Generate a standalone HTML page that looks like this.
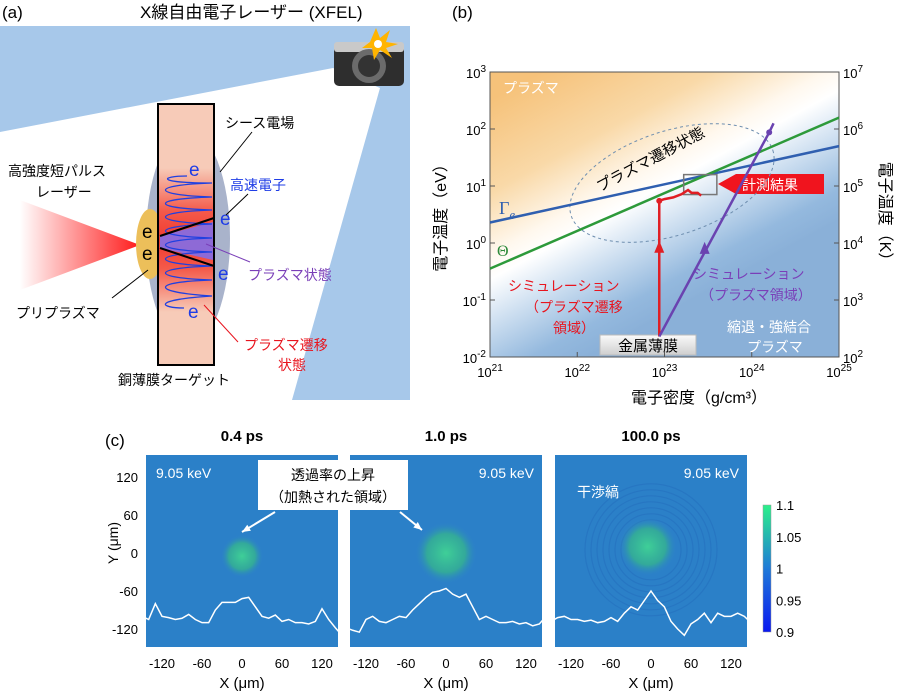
<!DOCTYPE html>
<html><head><meta charset="utf-8"><style>
html,body{margin:0;padding:0;background:#fff}
svg{display:block;font-family:"Liberation Sans","Noto Sans CJK JP",sans-serif}
</style></head><body>
<svg id="fig" width="900" height="698" viewBox="0 0 900 698">
<defs>
<linearGradient id="bgB" gradientUnits="userSpaceOnUse" x1="600" y1="40" x2="730" y2="280">
<stop offset="0" stop-color="#f6c27a"/><stop offset="0.3" stop-color="#f9d9a8"/><stop offset="0.5" stop-color="#fff8ee"/><stop offset="0.58" stop-color="#ffffff"/><stop offset="0.72" stop-color="#cfe0f1"/><stop offset="0.9" stop-color="#94b9de"/><stop offset="1" stop-color="#8ab0d8"/>
</linearGradient>
<linearGradient id="cone" x1="0" x2="1"><stop offset="0" stop-color="#fff"/><stop offset="1" stop-color="#ff1a1a"/></linearGradient>
<linearGradient id="band" x1="0" y1="0" x2="0" y2="1"><stop offset="0" stop-color="#f7cbb8"/><stop offset="0.3" stop-color="#f45a4a"/><stop offset="0.5" stop-color="#f03a30"/><stop offset="0.7" stop-color="#f45a4a"/><stop offset="1" stop-color="#f7cbb8"/></linearGradient>
<linearGradient id="cbar" x1="0" y1="1" x2="0" y2="0"><stop offset="0" stop-color="#0a18f0"/><stop offset="0.5" stop-color="#1f7ad8"/><stop offset="1" stop-color="#2cf08a"/></linearGradient>
<linearGradient id="metal" x1="0" y1="0" x2="0" y2="1"><stop offset="0" stop-color="#fafafa"/><stop offset="1" stop-color="#cfcfcf"/></linearGradient>
<radialGradient id="spot"><stop offset="0" stop-color="#3fcf98"/><stop offset="0.6" stop-color="#35b48f" stop-opacity="0.8"/><stop offset="1" stop-color="#2b7bd0" stop-opacity="0"/></radialGradient>
</defs>

<!-- Panel (a) -->
<g>
<text x="2" y="18" font-size="17">(a)</text>
<text x="140" y="18" font-size="17">X線自由電子レーザー (XFEL)</text>
<polygon points="0,26 410,26 410,400 292,400 380,88 333,68 0,132" fill="#a7c8ea"/>
<g>
<rect x="334" y="42" width="70" height="44" rx="5" fill="#2e2e2e"/>
<rect x="334" y="42" width="70" height="10" rx="3" fill="#c9c9c9"/>
<circle cx="369" cy="66" r="17" fill="#6b6b6b"/><circle cx="369" cy="66" r="11" fill="#333"/>
<polygon points="376,28 380,38 390,30 386,42 398,44 386,48 392,58 380,50 374,60 372,48 362,48 370,42" fill="#ffb400"/>
<circle cx="378" cy="44" r="4" fill="#fff"/>
</g>
<polygon points="20,200 140,245 20,290" fill="url(#cone)"/>
<ellipse cx="188" cy="238" rx="42" ry="108" fill="#a9b3cb"/>
<ellipse cx="150" cy="244" rx="14" ry="35" fill="#ecbf5a"/>
<rect x="158" y="104" width="56" height="261" fill="#f7cbb8" stroke="#000" stroke-width="2"/>
<rect x="159" y="168" width="54" height="144" fill="url(#band)"/>
<polygon points="160,236 213,222 213,260 160,248" fill="#8e6ad6"/>
<path d="M187,176 C160,176 155,183 212,183 C150,185 150,195 212,197 C150,199 150,208 212,210 C150,212 150,222 212,224 C150,226 150,236 212,238 C150,240 150,250 212,252 C150,254 150,264 212,266 C150,268 150,278 212,280 C150,282 150,292 212,296 C150,300 160,308 184,308" fill="none" stroke="#2040e0" stroke-width="1.3"/>
<line x1="160" y1="236" x2="214" y2="218" stroke="#000" stroke-width="2"/>
<line x1="160" y1="248" x2="214" y2="266" stroke="#000" stroke-width="2"/>
<g font-size="19" fill="#1f3de6">
<text x="189" y="176">e</text><text x="220" y="225">e</text><text x="218" y="280">e</text><text x="188" y="318">e</text>
</g>
<text x="142" y="238" font-size="19">e</text>
<text x="142" y="260" font-size="19">e</text>
<g font-size="14">
<text x="225" y="128">シース電場</text>
<line x1="252" y1="132" x2="220" y2="172" stroke="#000"/>
<text x="230" y="190" fill="#1f3de6">高速電子</text>
<line x1="248" y1="194" x2="226" y2="215" stroke="#000"/>
<text x="8" y="176">高強度短パルス</text>
<text x="36" y="197">レーザー</text>
<text x="16" y="318">プリプラズマ</text>
<line x1="112" y1="298" x2="148" y2="270" stroke="#000"/>
<text x="248" y="280" fill="#7a3fb8">プラズマ状態</text>
<line x1="250" y1="262" x2="206" y2="244" stroke="#7a3fb8"/>
<text x="244" y="350" fill="#e8141e">プラズマ遷移</text>
<text x="278" y="370" fill="#e8141e">状態</text>
<line x1="238" y1="342" x2="204" y2="305" stroke="#e8141e"/>
<text x="118" y="385">銅薄膜ターゲット</text>
</g>
</g>

<!-- Panel (b) -->
<g id="pb">
<text x="452" y="18" font-size="17">(b)</text>
<rect x="490" y="72" width="349" height="285" fill="url(#bgB)"/>
<rect x="490" y="72" width="349" height="285" fill="none" stroke="#555"/>
<text x="503" y="93" font-size="14" fill="#fff">プラズマ</text>
<text x="0" y="0" font-size="15" transform="translate(600,192) rotate(-28)">プラズマ遷移状態</text>
<text x="499" y="214" font-size="18" fill="#2f5fb0" font-family="Liberation Serif,serif">Γ<tspan font-size="13" font-style="italic" dy="5">e</tspan></text>
<text x="497" y="256" font-size="16" fill="#2d8a3a" font-family="Liberation Serif,serif">Θ</text>
<g font-size="14">
<text x="508" y="291" fill="#e8141e">シミュレーション</text>
<text x="525" y="312" fill="#e8141e">（プラズマ遷移</text>
<text x="553" y="333" fill="#e8141e">領域）</text>
<text x="693" y="279" fill="#7a3fb8">シミュレーション</text>
<text x="700" y="300" fill="#7a3fb8">（プラズマ領域）</text>
<text x="727" y="332" fill="#fff">縮退・強結合</text>
<text x="747" y="352" fill="#fff">プラズマ</text>
</g>
<rect x="600" y="335" width="96" height="20" fill="url(#metal)" stroke="#bbb"/>
<text x="648" y="351" font-size="15" text-anchor="middle">金属薄膜</text>
<polygon points="718,184 736,174 824,174 824,194 736,194" fill="#f0141e"/>
<text x="742" y="190" font-size="14" fill="#fff">計測結果</text>
<text x="631" y="403" font-size="16">電子密度（g/cm³）</text>
<text transform="translate(446,214) rotate(-90)" font-size="16" text-anchor="middle">電子温度（eV）</text>
<text transform="translate(880,215) rotate(90)" font-size="16" text-anchor="middle">電子温度（K）</text>
</g>

<!-- Panel (c) -->
<g id="pc">
<text x="105" y="446" font-size="17">(c)</text>
<text x="9" y="0" transform="translate(118,552) rotate(-90)" font-size="14" text-anchor="middle">Y (μm)</text>
</g>
</svg>
<script>
const NS='http://www.w3.org/2000/svg';
// ---- panel b data ----
const xDecades=[21,22,23,24,25];
const yDecades=[-2,-1,0,1,2,3];
const kDecades=[2,3,4,5,6,7];
const gammaLine=[[21,0.36],[25,1.7]];
const thetaLine=[[21,-0.45],[25,2.2]];
const redSim=[[22.94,-1.64],[22.94,0.74],[23.0,0.77],[23.1,0.8],[23.2,0.86],[23.27,0.93],[23.31,0.88],[23.38,0.88],[23.42,0.83]];
const purpleSim=[[22.94,-1.64],[24.2,1.94],[24.25,2.1]];
const redArrowAt=[22.94,-0.1];
const purpleArrowAt=[23.46,-0.12];
const measureBox=[[23.22,0.85],[23.6,1.2]];
// ---- panel c data ----
const profX=[-150,-140,-130,-120,-110,-100,-90,-80,-70,-60,-50,-40,-30,-20,-10,0,10,20,30,40,50,60,70,80,90,100,110,120,130,140,150];
const prof1=[-100,-105,-80,-100,-102,-105,-103,-97,-105,-110,-110,-90,-78,-78,-78,-72,-70,-85,-100,-103,-98,-108,-105,-110,-110,-112,-108,-88,-105,-118,-130];
const prof2=[-118,-122,-125,-105,-100,-108,-110,-105,-100,-102,-90,-80,-70,-62,-60,-56,-65,-70,-65,-85,-105,-100,-105,-110,-110,-108,-112,-110,-115,-112,-100];
const prof3=[-108,-102,-100,-105,-105,-108,-106,-110,-108,-102,-108,-95,-85,-90,-75,-60,-75,-85,-108,-120,-130,-112,-105,-95,-110,-95,-100,-100,-95,-100,-110];
const panelTitles=['0.4 ps','1.0 ps','100.0 ps'];
const xTicksC=[-120,-60,0,60,120];
const yTicksC=[120,60,0,-60,-120];
const cbarTicks=[1.1,1.05,1,0.95,0.9];

const X=e=>490+(e-21)*349/4;
const Y=e=>357-(e+2)*57;
const pb=document.getElementById('pb');
function mk(t,a,p){const el=document.createElementNS(NS,t);for(const k in a)el.setAttribute(k,a[k]);(p||pb).appendChild(el);return el;}
function txt(x,y,s,sz,anchor,p){const t=mk('text',{x:x,y:y,'font-size':sz,'text-anchor':anchor||'start'},p);t.textContent=s;return t;}

let el=mk('ellipse',{cx:672,cy:183,rx:106,ry:52,fill:'none',stroke:'#6f8fb0','stroke-dasharray':'3,3',transform:'rotate(-18 672 183)'});


function line(pts,col,w,name){const l=mk('polyline',{points:pts.map(p=>X(p[0])+','+Y(p[1])).join(' '),fill:'none',stroke:col,'stroke-width':w});

return l;}
line(gammaLine,'#2f5fb0',2.5,'gamma-e-line');
line(thetaLine,'#2d9a3a',2.5,'theta-line');
const bx=mk('rect',{x:X(measureBox[0][0]),y:Y(measureBox[1][1]),width:X(measureBox[1][0])-X(measureBox[0][0]),height:Y(measureBox[0][1])-Y(measureBox[1][1]),fill:'none',stroke:'#777','stroke-width':1.5});


line(redSim,'#e01e24',2.5,'red-simulation-path');
line(purpleSim,'#6a43b0',2.5,'purple-simulation-path');
function tri(p,col,name){const x=X(p[0]),y=Y(p[1]);const t=mk('polygon',{points:`${x},${y-8} ${x-5},${y+4} ${x+5},${y+4}`,fill:col});

}
tri(redArrowAt,'#e01e24','red-arrowhead');
tri(purpleArrowAt,'#6a43b0','purple-arrowhead');
let d=mk('circle',{cx:X(redSim[1][0]),cy:Y(redSim[1][1]),r:3,fill:'#e01e24'});


d=mk('circle',{cx:X(purpleSim[1][0]),cy:Y(purpleSim[1][1]),r:3,fill:'#6a43b0'});


function sup(x,y,b,e,anchor,name){const t=mk('text',{x:x,y:y,'font-size':13,'text-anchor':anchor});t.textContent=b;const s=document.createElementNS(NS,'tspan');s.setAttribute('dy','-6');s.setAttribute('font-size','10');s.textContent=e;t.appendChild(s);

}
xDecades.forEach(e=>{mk('line',{x1:X(e),y1:357,x2:X(e),y2:352,stroke:'#555'});sup(X(e),377,'10',e,'middle','x-tick-label');});
yDecades.forEach(e=>{mk('line',{x1:490,y1:Y(e),x2:495,y2:Y(e),stroke:'#555'});sup(486,Y(e)+6,'10',e,'end','y-tick-label-left');});
kDecades.forEach((e,i)=>{mk('line',{x1:839,y1:Y(i-2),x2:834,y2:Y(i-2),stroke:'#555'});sup(843,Y(i-2)+6,'10',e,'start','y-tick-label-right');});

// ---- panel c ----
const pc=document.getElementById('pc');
const centers=[242,446,651];
const YC=v=>553-v*38/60;
const spots=[[[0,-5],22],[[0,0],32],[[-5,10],30]];
centers.forEach((cx,i)=>{
 const g=mk('g',{},pc);
 
 
 const XC=v=>cx+v*80/120;
 mk('rect',{x:cx-96,y:455,width:192,height:192,fill:'#2b7bd0'},g);
 mk('rect',{x:cx-96,y:455,width:192,height:192,fill:'#2f9aa8',opacity:0.18},g);
 if(i===2){for(let r=30;r<=70;r+=6)mk('circle',{cx:XC(0),cy:YC(5),r:r,fill:'none',stroke:'#1d5fb5','stroke-width':1.2,opacity:0.3},g);}
 const s=spots[i];mk('circle',{cx:XC(s[0][0]),cy:YC(s[0][1]),r:s[1],fill:'url(#spot)'},g);
 const pr=[prof1,prof2,prof3][i];
 const pl=mk('polyline',{points:profX.map((x,j)=>XC(x)+','+YC(pr[j])).join(' '),fill:'none',stroke:'#fff','stroke-width':1.5},g);
 
 
 const t=txt(cx,441,panelTitles[i],15,'middle',g);t.setAttribute('font-weight','bold');
 
 
 xTicksC.forEach(v=>{const l=txt(XC(v),668,v,13,'middle',g);
 
 });
 const xl=txt(cx,688,'X (μm)',15,'middle',g);
 
 
 const ke=txt(i===0?cx-86:cx+88,478,'9.05 keV',14,i===0?'start':'end',g);ke.setAttribute('fill','#fff');
 
 
});
yTicksC.forEach(v=>{const l=txt(138,YC(v)+5,v,13,'end',pc);

});
const ab=mk('rect',{x:258,y:460,width:150,height:50,fill:'#fff'},pc);


let at=txt(333,480,'透過率の上昇',14,'middle',pc);


at=txt(333,502,'（加熱された領域）',14,'middle',pc);


[[275,512,242,532],[400,512,422,530]].forEach(a=>{const l=mk('line',{x1:a[0],y1:a[1],x2:a[2],y2:a[3],stroke:'#fff','stroke-width':2},pc);


const ang=Math.atan2(a[3]-a[1],a[2]-a[0]);const h=mk('polygon',{points:`${a[2]},${a[3]} ${a[2]-9*Math.cos(ang-0.4)},${a[3]-9*Math.sin(ang-0.4)} ${a[2]-9*Math.cos(ang+0.4)},${a[3]-9*Math.sin(ang+0.4)}`,fill:'#fff'},pc);

});
const fr=txt(577,497,'干渉縞',14,'start',pc);fr.setAttribute('fill','#fff');


const cb=mk('rect',{x:763,y:505,width:8,height:127,fill:'url(#cbar)',stroke:'#999','stroke-width':0.5},pc);


cbarTicks.forEach(v=>{const y=632-(v-0.9)/0.2*127;const l=txt(776,y+5,String(v),13,'start',pc);

});
</script>
</body></html>
